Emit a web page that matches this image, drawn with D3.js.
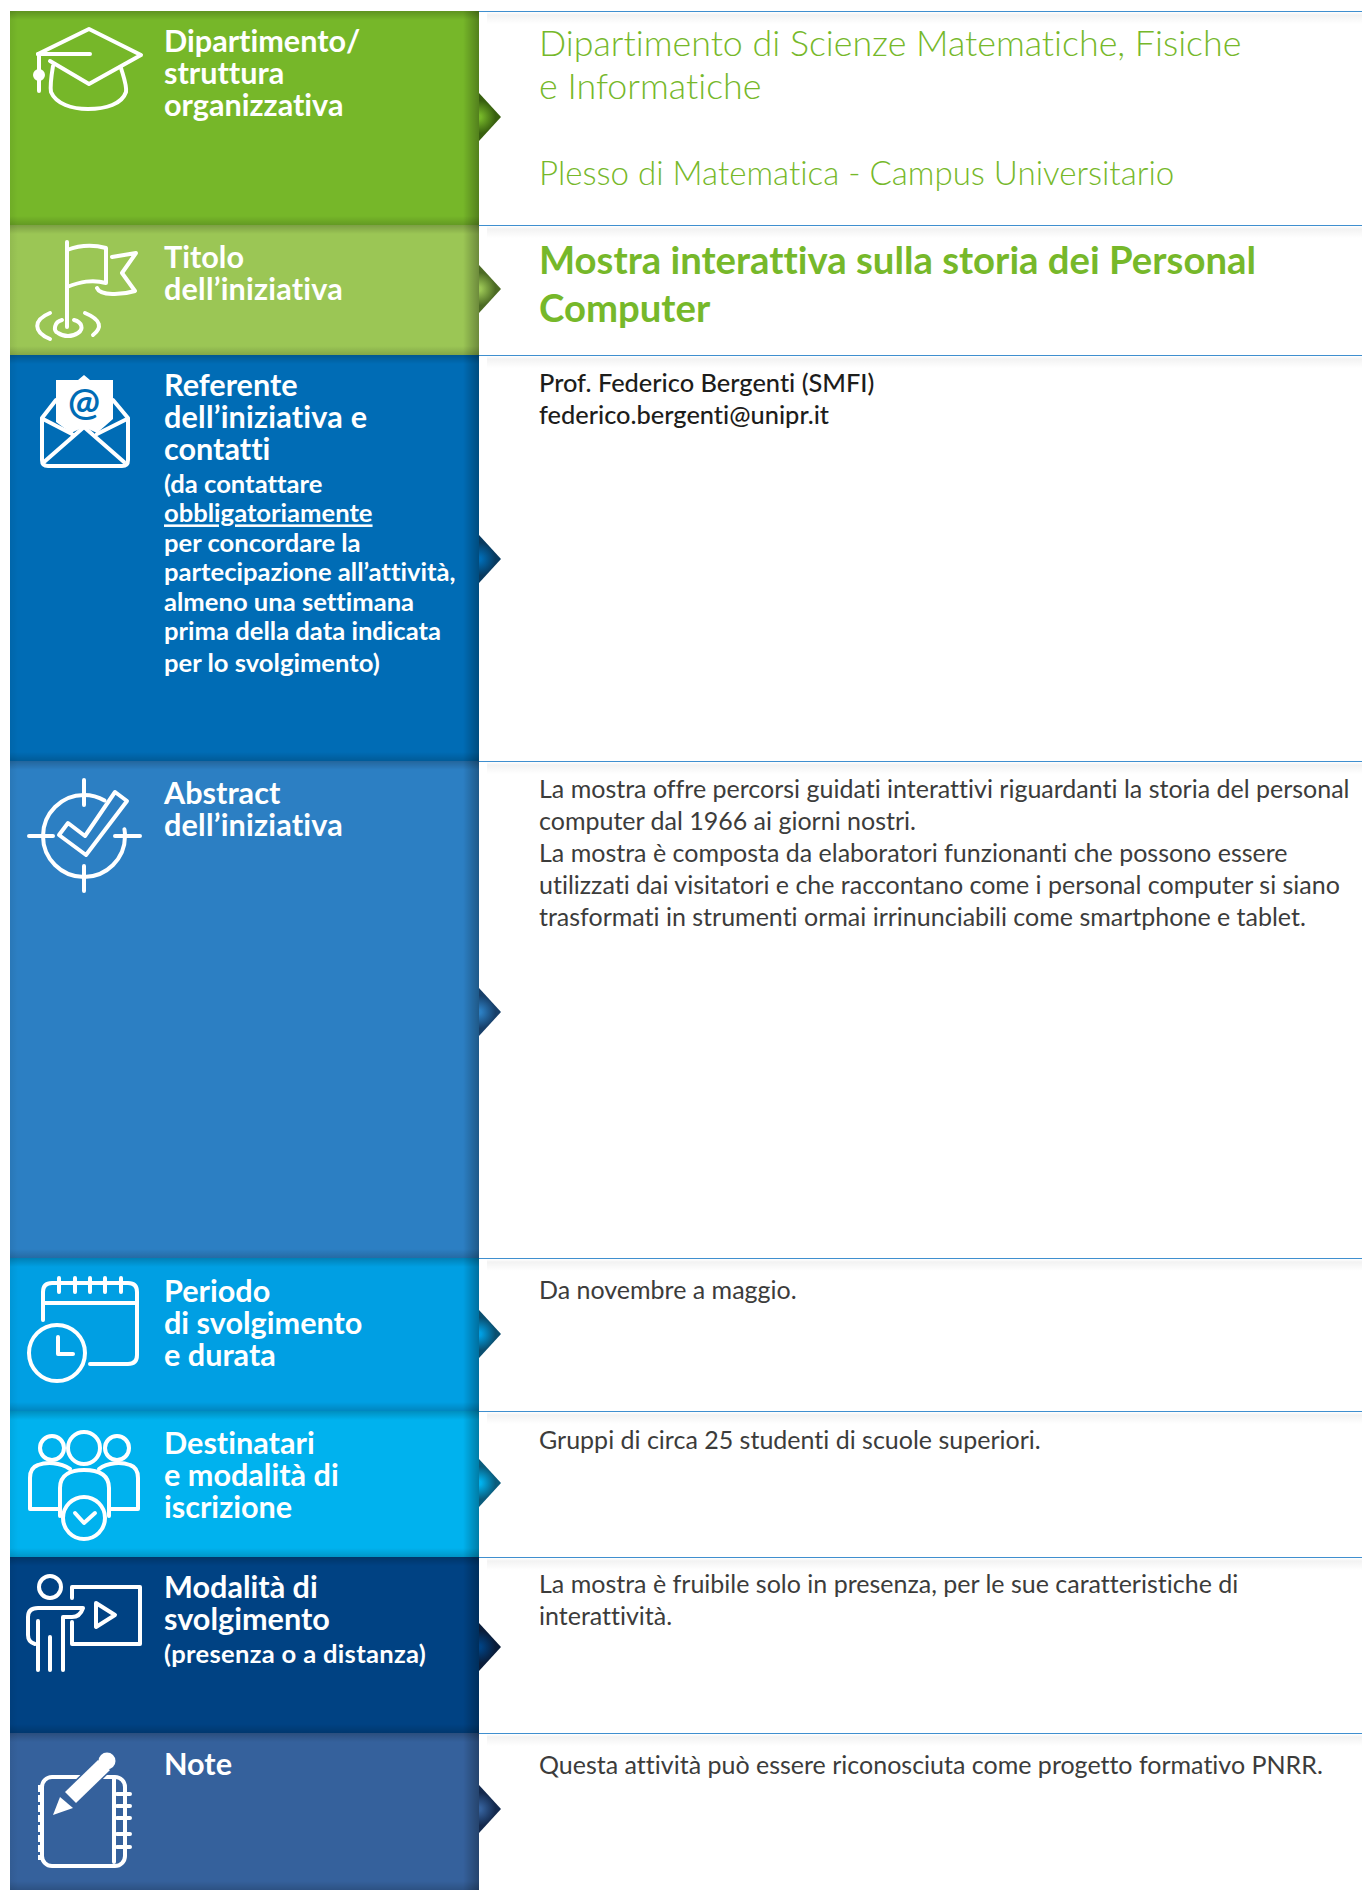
<!DOCTYPE html>
<html>
<head>
<meta charset="utf-8">
<script src="https://cdn.jsdelivr.net/npm/d3@7"></script>
<style>
html, body { margin: 0; padding: 0; background: #fff; }
svg { display: block; }
text { font-family: Lato, sans-serif; font-variant-ligatures: none; }
</style>
</head>
<body>
<div id="scheda"></div>
<script>
// the rows of the sheet
var rowNames = ["dipartimento", "titolo", "referente", "abstract", "periodo", "destinatari", "modalita", "note"];
var rowEdges = [11, 225, 355, 761, 1258, 1411, 1557, 1733, 1890];
var rowColors = ["#76b729", "#9bc655", "#006cb5", "#2c7fc3", "#009fe3", "#00b2ee", "#004283", "#35619c"];
var arrowDark = ["#38600f", "#4c6b24", "#083a5f", "#173f69", "#0a4f70", "#0a5c7c", "#0a1d3a", "#142a4e"];
var arrowCenters = [117, 289, 559, 1012, 1334, 1483, 1647, 1809];

var labelBig = [
	["Dipartimento/", "struttura", "organizzativa"],
	["Titolo", "dell\u2019iniziativa"],
	["Referente", "dell\u2019iniziativa e", "contatti"],
	["Abstract", "dell\u2019iniziativa"],
	["Periodo", "di svolgimento", "e durata"],
	["Destinatari", "e modalit\u00e0 di", "iscrizione"],
	["Modalit\u00e0 di", "svolgimento"],
	["Note"]
];
var labelSmall = [
	[], [],
	["(da contattare", "obbligatoriamente", "per concordare la", "partecipazione all\u2019attivit\u00e0,", "almeno una settimana", "prima della data indicata", "per lo svolgimento)"],
	[], [], [],
	["(presenza o a distanza)"],
	[]
];
var contentLines = [
	["Dipartimento di Scienze Matematiche, Fisiche", "e Informatiche", "", "Plesso di Matematica - Campus Universitario"],
	["Mostra interattiva sulla storia dei Personal", "Computer"],
	["Prof. Federico Bergenti (SMFI)", "federico.bergenti@unipr.it"],
	["La mostra offre percorsi guidati interattivi riguardanti la storia del personal", "computer dal 1966 ai giorni nostri.", "La mostra \u00e8 composta da elaboratori funzionanti che possono essere", "utilizzati dai visitatori e che raccontano come i personal computer si siano", "trasformati in strumenti ormai irrinunciabili come smartphone e tablet."],
	["Da novembre a maggio."],
	["Gruppi di circa 25 studenti di scuole superiori."],
	["La mostra \u00e8 fruibile solo in presenza, per le sue caratteristiche di", "interattivit\u00e0."],
	["Questa attivit\u00e0 pu\u00f2 essere riconosciuta come progetto formativo PNRR."]
];
var contentStyle = ["light", "title", "medium", "body", "body", "body", "body", "body"];

var pageW = 1362, pageH = 1890;
var panelLeft = 10, panelRight = 479, textLeft = 164, contentLeft = 539;
var labelFirst = [40.5, 43, 41, 42.5, 44, 42.5, 41, 42];
var contentFirst = [45, 49, 37, 37, 41, 38, 36, 41];

var y = d3.scaleLinear().domain([0, pageH]).range([0, pageH]);
var bigStep = 32, smallStep = 29.4;

var svg = d3.select("#scheda").append("svg")
	.attr("width", pageW)
	.attr("height", pageH);

var defs = svg.append("defs");

function makeGradient(id, x2, y2, stops) {
	var g = defs.append("linearGradient").attr("id", id)
		.attr("x1", 0).attr("y1", 0).attr("x2", x2).attr("y2", y2);
	stops.forEach(function(s) {
		g.append("stop").attr("offset", s[0]).attr("stop-color", s[1]).attr("stop-opacity", s[2]);
	});
}
makeGradient("shadeTop", 0, 1, [[0, "#000", 0.2], [1, "#000", 0]]);
makeGradient("shadeBottom", 0, 1, [[0, "#000", 0], [1, "#000", 0.16]]);
makeGradient("shadeRight", 1, 0, [[0, "#000", 0], [1, "#000", 0.3]]);
makeGradient("shadeLeft", 1, 0, [[0, "#000", 0.06], [1, "#000", 0]]);
makeGradient("lineShadow", 0, 1, [[0, "#000", 0], [0.25, "#000", 0.05], [1, "#000", 0]]);

// right hand side: rule and the soft shadow under it
rowNames.forEach(function(name, i) {
	var top = y(rowEdges[i]);
	svg.append("rect")
		.attr("x", panelRight + 8).attr("y", top + 1)
		.attr("width", pageW - panelRight - 8).attr("height", 12)
		.attr("fill", "url(#lineShadow)");
	svg.append("line")
		.attr("x1", panelRight).attr("x2", pageW)
		.attr("y1", top + 0.5).attr("y2", top + 0.5)
		.attr("stroke", "#3f8fcf").attr("stroke-width", 1.2);
});

// arrows
rowNames.forEach(function(name, i) {
	var c = y(arrowCenters[i]);
	var rg = defs.append("radialGradient").attr("id", "arrow" + i)
		.attr("gradientUnits", "userSpaceOnUse")
		.attr("cx", panelRight).attr("cy", c).attr("r", 22);
	rg.append("stop").attr("offset", 0.1).attr("stop-color", rowColors[i]);
	rg.append("stop").attr("offset", 0.75).attr("stop-color", arrowDark[i]);
	svg.append("path")
		.attr("d", d3.line()([[panelRight, c - 24], [panelRight + 22, c], [panelRight, c + 24]]) + "Z")
		.attr("fill", "url(#arrow" + i + ")");
});

// coloured panels with darkened edges
rowNames.forEach(function(name, i) {
	var top = y(rowEdges[i]), bot = y(rowEdges[i + 1]), w = panelRight - panelLeft;
	svg.append("rect").attr("x", panelLeft).attr("y", top).attr("width", w).attr("height", bot - top).attr("fill", rowColors[i]);
	svg.append("rect").attr("x", panelRight - 16).attr("y", top).attr("width", 16).attr("height", bot - top).attr("fill", "url(#shadeRight)");
	svg.append("rect").attr("x", panelLeft).attr("y", top).attr("width", 8).attr("height", bot - top).attr("fill", "url(#shadeLeft)");
	svg.append("rect").attr("x", panelLeft).attr("y", top).attr("width", w).attr("height", 9).attr("fill", "url(#shadeTop)");
	svg.append("rect").attr("x", panelLeft).attr("y", bot - 9).attr("width", w).attr("height", 9).attr("fill", "url(#shadeBottom)");
});

// labels
rowNames.forEach(function(name, i) {
	var base = y(rowEdges[i]) + labelFirst[i];
	labelBig[i].forEach(function(t, k) {
		svg.append("text").attr("x", textLeft).attr("y", base + k * bigStep)
			.attr("font-size", 30.6).attr("font-weight", 700).attr("fill", "#fff")
			.attr("letter-spacing", t.indexOf("dell") === 0 ? 0.2 : null)
			.text(t);
	});
	var b2 = base + (labelBig[i].length - 1) * bigStep + 33;
	labelSmall[i].forEach(function(t, k) {
		svg.append("text").attr("x", textLeft).attr("y", b2 + k * smallStep + (k === 6 ? 2.5 : 0))
			.attr("font-size", 25.6).attr("font-weight", 700).attr("fill", "#fff")
			.attr("letter-spacing", i === 6 ? 0.3 : null)
			.attr("text-decoration", t === "obbligatoriamente" ? "underline" : null)
			.text(t);
	});
});

// content on the right
var styleFont = {
	light: {size: 35.8, weight: 300, fill: "#76b82a", step: 43},
	title: {size: 38.3, weight: 700, fill: "#76b82a", step: 48},
	medium: {size: 25.4, weight: 500, fill: "#1d1d1b", step: 32},
	body: {size: 25, weight: 400, fill: "#3c3c3b", step: 32}
};
rowNames.forEach(function(name, i) {
	var st = styleFont[contentStyle[i]];
	contentLines[i].forEach(function(t, k) {
		if (t === "") return;
		svg.append("text").attr("x", contentLeft)
			.attr("y", y(rowEdges[i]) + contentFirst[i] + k * st.step)
			.attr("font-size", t.indexOf("Plesso") === 0 ? 33.1 : st.size).attr("font-weight", st.weight).attr("fill", st.fill)
			.text(t);
	});
});

// icons, each one is plain paths in page pixels
var icons = svg.append("g").attr("fill", "none").attr("stroke", "#fff").attr("stroke-width", 4)
	.attr("stroke-linecap", "round").attr("stroke-linejoin", "round");
function ic(d) { return icons.append("path").attr("d", d); }
function dot(cx, cy, r) { return icons.append("circle").attr("cx", cx).attr("cy", cy).attr("r", r); }

// cap
ic("M38 54 L89 29 L141 55 L89 84 L50 61");
ic("M38 54 H90 M39 54 V91");
dot(39, 75, 4).attr("fill", "#fff");
ic("M53 66 C51 78 50 86 51 92 C56 104 72 109 88 109 C106 109 122 104 126 92 C127 86 124 78 121 68");

// flag
ic("M67 242 V327");
ic("M67 250 C80 245 95 245 106 248 V283 C92 279 80 282 67 287");
ic("M112 257 L136 253 L122 273 L135 291 C122 295 100 296 97 288");
ic("M62 320 C54 322 53 331 58 333 C64 337 72 337 78 333 C84 329 82 322 74 320");
ic("M50 313 C33 320 33 332 50 339 M85 313 C102 320 102 328 93 335");

// envelope
icons.append("path").attr("d", "M56 380 H78 L84 375 L90 380 H113 V419 L97 433 L84 427 L71 433 L56 422 Z").attr("fill", "#fff").attr("stroke", "none");
icons.append("text").attr("x", 84).attr("y", 415).attr("text-anchor", "middle")
	.attr("font-size", 38).attr("font-weight", 700).attr("fill", rowColors[2]).attr("stroke", "none").text("@");
ic("M56 400 L42 418 V460 Q42 466 48 466 H122 Q128 466 128 460 V418 L113 400");
ic("M44 462 L84 427 L124 462 M43 419 L72 434 M127 419 L97 434");

// target with check
dot(84, 836, 41).attr("stroke-dasharray", "221.6 36").attr("stroke-dashoffset", 7.2);
ic("M84 780 V805 M84 866 V891 M29 836 H53 M115 836 H140");
ic("M59 835 L68 823 L85 836 L115 792 L127 801 L86 855 Z");

// calendar
ic("M43 1320 V1292 Q43 1283 52 1283 H128 Q137 1283 137 1292 V1355 Q137 1364 128 1364 H90");
ic("M43 1303 H137");
ic("M59 1278 V1292 M75 1278 V1292 M90 1278 V1292 M105 1278 V1292 M121 1278 V1292");
dot(57, 1353, 28);
ic("M58 1337 V1354 H73");

// people
dot(52, 1448, 12); dot(84, 1448, 16); dot(117, 1448, 12);
ic("M60 1516 V1488 C60 1474 72 1470 84 1470 C97 1470 109 1474 109 1488 V1516");
ic("M70 1469 C60 1462 46 1462 38 1465 C32 1467 30 1472 30 1478 V1509 H59");
ic("M99 1469 C108 1462 122 1462 130 1465 C136 1467 138 1472 138 1478 V1509 H110");
dot(84, 1518, 21);
ic("M75 1513 L84 1523 L95 1513");

// presenter
dot(50, 1587, 11);
ic("M72 1598 V1587 H140 V1644 H72 V1622");
ic("M38 1670 V1621 M35 1644 Q28 1642 28 1635 V1617 Q28 1608 38 1608 H83 Q80 1617 72 1617 H63 V1670 M50 1637 V1670");
ic("M96 1603 L115 1615 L96 1627 Z");

// notebook and pen
icons.append("rect").attr("x", 42).attr("y", 1777).attr("width", 83).attr("height", 89).attr("rx", 10);
ic("M114 1778 V1862");
ic("M117 1794 H130 M117 1806 H130 M117 1818 H130 M117 1834 H130 M117 1847 H130");
icons.append("line").attr("x1", 41).attr("x2", 41).attr("y1", 1785).attr("y2", 1860)
	.attr("stroke-width", 6).attr("stroke-linecap", "butt").attr("stroke-dasharray", "7 3");
icons.append("path").attr("d", "M65 1792 L98 1760 L110 1770 L76 1803 Z").attr("fill", "#fff").attr("stroke", rowColors[7]).attr("stroke-width", 3).attr("paint-order", "stroke");
icons.append("path").attr("d", "M60 1797 L73 1808 L53 1815 Z").attr("fill", "#fff").attr("stroke", "none");
icons.append("circle").attr("cx", 107).attr("cy", 1761).attr("r", 8.5).attr("fill", "#fff").attr("stroke", "none");
</script>
</body>
</html>
